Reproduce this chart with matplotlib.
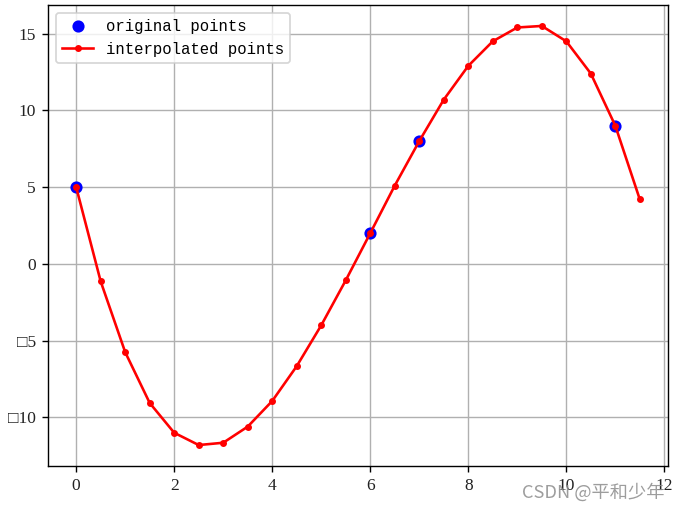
import matplotlib
matplotlib.use('Agg')
import matplotlib.pyplot as plt
from matplotlib.ticker import FuncFormatter
import numpy as np

# original sample points
x_orig = [0, 6, 7, 11]
y_orig = [5, 2, 8, 9]

# interpolated points
x_interp = [0, 0.5, 1, 1.5, 2, 2.5, 3, 3.5, 4, 4.5, 5, 5.5,
            6, 6.5, 7, 7.5, 8, 8.5, 9, 9.5, 10, 10.5, 11, 11.5]
y_interp = [5.0, -1.14, -5.75, -9.06, -11.0, -11.8, -11.65, -10.6, -8.93, -6.66, -4.0, -1.07,
            2.0, 5.1, 8.0, 10.7, 12.9, 14.5, 15.4, 15.5, 14.5, 12.4, 9.0, 4.2]

plt.rcParams['font.family'] = ['Liberation Mono', 'DejaVu Sans']
plt.rcParams['font.size'] = 9

fig, ax = plt.subplots(figsize=(679 / 125, 509 / 125), dpi=125)
fig.subplots_adjust(left=48 / 679, right=668 / 679, top=1 - 5 / 509, bottom=1 - 466 / 509)

ax.plot(x_orig, y_orig, 'bo', label='original points')
ax.plot(x_interp, y_interp, 'r.-', label='interpolated points')
ax.grid(True)
ax.legend(loc='upper left')


# the original font had no minus glyph, so it showed as a box
def fmt(v, pos):
    s = '%g' % v
    return s.replace('-', '\u25a1')


ax.yaxis.set_major_formatter(FuncFormatter(fmt))
for lab in ax.get_xticklabels() + ax.get_yticklabels():
    lab.set_family(['Liberation Serif', 'DejaVu Sans'])
    lab.set_fontsize(10)
    lab.set_color('#222222')

fig.text(664 / 679, 1 - 498 / 509, 'CSDN @平和少年', ha='right', va='baseline',
         fontsize=10.5, color='#8c8c8c', alpha=0.85,
         family=['Noto Sans CJK SC', 'DejaVu Sans'])

fig.savefig('out.png', dpi=125)
